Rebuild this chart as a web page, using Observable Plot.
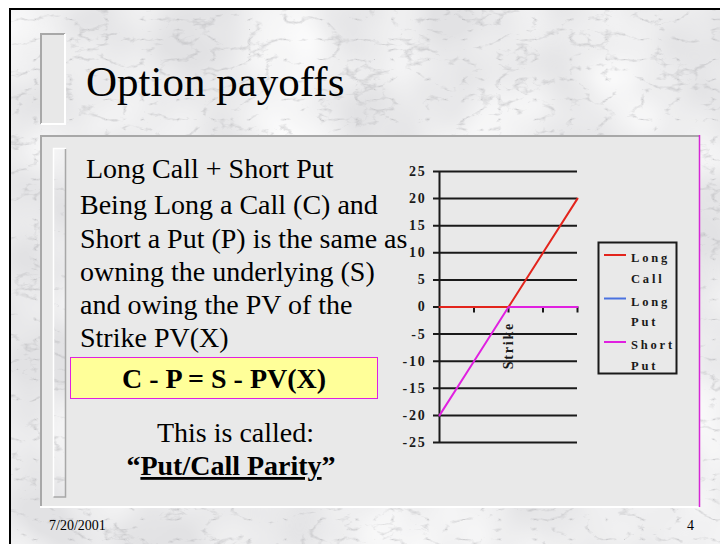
<!DOCTYPE html>
<html><head><meta charset="utf-8">
<script src="https://cdn.jsdelivr.net/npm/d3@7"></script>
<script src="https://cdn.jsdelivr.net/npm/@observablehq/plot@0.6"></script>
<style>
html,body{margin:0;padding:0;width:720px;height:544px;overflow:hidden;background:#fff;}
#deco{position:absolute;left:0;top:0;}
#chart{position:absolute;left:395px;top:155px;}
#chart svg{font-family:"Liberation Serif","Times New Roman",serif;font-size:14px;font-weight:bold;background:transparent;overflow:visible;}
#chart svg text{letter-spacing:1.8px;fill:#1a1a1a;}
.serif{font-family:"Liberation Serif","Times New Roman",serif;}
</style></head>
<body>
<svg id="deco" width="720" height="544" xmlns="http://www.w3.org/2000/svg">
  <defs>
    <filter id="marble" filterUnits="userSpaceOnUse" x="0" y="0" width="720" height="544">
      <feTurbulence type="turbulence" baseFrequency="0.028 0.05" numOctaves="4" seed="11" result="t"/>
      <feColorMatrix in="t" type="matrix" values="0 0 0 0 0.45  0 0 0 0 0.45  0 0 0 0 0.47  -3.2 0 0 0 0.6" result="veins"/>
      <feTurbulence type="fractalNoise" baseFrequency="0.012" numOctaves="2" seed="4" result="n"/>
      <feColorMatrix in="n" type="matrix" values="0 0 0 0 1  0 0 0 0 1  0 0 0 0 1  1.6 0 0 0 -0.45" result="light"/>
      <feFlood flood-color="#e2e2e4" result="base"/>
      <feComposite in="light" in2="base" operator="over" result="b2"/>
      <feComposite in="veins" in2="b2" operator="over" result="all"/>
      <feComposite in="all" in2="SourceGraphic" operator="in"/>
    </filter>
  </defs>
  <rect x="10" y="10" width="710" height="534" fill="#e2e2e2" filter="url(#marble)"/>
  <path d="M10,544 V9 H720" fill="none" stroke="#000" stroke-width="2"/>
  <!-- title box -->
  <rect x="40" y="33" width="25" height="91" fill="#e8e8e8"/>
  <path d="M41,124 V34 H65" fill="none" stroke="#a8a8a8" stroke-width="2"/>
  <path d="M41,124 H65 V34" fill="none" stroke="#fff" stroke-width="2"/>
  <text class="serif" x="86" y="96" font-size="43">Option payoffs</text>
  <!-- panel -->
  <rect x="40" y="135" width="659" height="372" fill="#e9e9e9"/>
  <path d="M41,507 V136 H699" fill="none" stroke="#a8a8a8" stroke-width="2"/>
  <path d="M40,507 H699" fill="none" stroke="#fff" stroke-width="2"/>
  <path d="M699.5,135 V507" fill="none" stroke="#d626d6" stroke-width="1.5"/>
  <!-- inner strip -->
  <rect x="53" y="148" width="13" height="349" fill="#e2e2e2" filter="url(#marble)"/>
  <path d="M53.5,497 V148.5 H66" fill="none" stroke="#fff" stroke-width="1.5"/>
  <path d="M53.5,497 H65.5 V149" fill="none" stroke="#a8a8a8" stroke-width="1.5"/>
  <!-- body text -->
  <g class="serif" font-size="28" fill="#000">
    <text x="86" y="178">Long Call + Short Put</text>
    <text x="80" y="214">Being Long a Call (C) and</text>
    <text x="80" y="248">Short a Put (P) is the same as</text>
    <text x="80" y="281">owning the underlying (S)</text>
    <text x="80" y="314">and owing the PV of the</text>
    <text x="80" y="347">Strike PV(X)</text>
  </g>
  <rect x="70.5" y="357.5" width="307" height="41" fill="#ffff99" stroke="#e020e0" stroke-width="1"/>
  <text class="serif" x="224" y="388" font-size="28" font-weight="bold" text-anchor="middle">C - P = S - PV(X)</text>
  <text class="serif" x="235.5" y="442" font-size="28" text-anchor="middle">This is called:</text>
  <text class="serif" x="231" y="475" font-size="28" font-weight="bold" text-anchor="middle">“<tspan text-decoration="underline">Put/Call Parity</tspan>”</text>
  <text class="serif" x="49" y="530" font-size="14">7/20/2001</text>
  <text class="serif" x="687" y="530" font-size="14">4</text>
  <g id="legend"></g>
</svg>
<div id="chart"></div>
<script>
// ---- data ----
const categories = ["", "", "Strike", "", ""];
const longCall = [0, 0, 0, 10, 20];
const longPut = [null, null, null, null, null];
const shortPut = [-20, -10, 0, 0, 0];
const seriesNames = ["Long Call", "Long Put", "Short Put"];
const seriesColors = ["#e3241c", "#4a72e0", "#e020e0"];
const yTicks = [25, 20, 15, 10, 5, 0, -5, -10, -15, -20, -25];

const seriesValues = [longCall, longPut, shortPut];
const rows = [];
seriesValues.forEach((vals, s) => vals.forEach((v, i) => {
  if (v !== null) rows.push({x: i, y: v, series: seriesNames[s]});
}));
const xIdx = categories.map((_, i) => i);
const labelRows = categories.map((c, i) => ({x: i, label: c})).filter(d => d.label);

const chart = Plot.plot({
  width: 290, height: 300,
  marginLeft: 44, marginRight: 108, marginTop: 16, marginBottom: 13,
  x: {domain: [0, categories.length - 1], axis: null},
  y: {domain: [-25, 25], axis: null},
  color: {domain: seriesNames, range: seriesColors},
  marks: [
    Plot.ruleY(yTicks, {stroke: "#1a1a1a", strokeWidth: 2, insetLeft: -6}),
    Plot.ruleX([0], {stroke: "#1a1a1a", strokeWidth: 2}),
    Plot.ruleX(xIdx.slice(1), {y1: 0, y2: 0, insetBottom: -6, stroke: "#1a1a1a", strokeWidth: 2}),
    Plot.axisY({ticks: yTicks, tickSize: 0, tickPadding: 13, label: null, tickFormat: d => String(d), fontWeight: "bold", fontSize: 14}),
    Plot.line(rows, {x: "x", y: "y", z: "series", stroke: "series", strokeWidth: 2}),
    Plot.text(labelRows, {x: "x", y: 0, text: "label", rotate: -90, textAnchor: "end", dy: 15, fontWeight: "bold", fontSize: 14})
  ]
});
document.getElementById("chart").appendChild(chart);

// ---- legend ----
const lg = d3.select("#legend");
lg.append("rect").attr("x", 598.5).attr("y", 242.5).attr("width", 78).attr("height", 131)
  .attr("fill", "none").attr("stroke", "#1a1a1a").attr("stroke-width", 2);
seriesNames.forEach((name, i) => {
  const cy = 255 + i * 43.5;
  lg.append("line").attr("x1", 604).attr("x2", 626).attr("y1", cy).attr("y2", cy)
    .attr("stroke", seriesColors[i]).attr("stroke-width", 2);
  const words = name.split(" ");
  words.forEach((w, j) => {
    lg.append("text").attr("class", "serif").attr("x", 631).attr("y", cy + 7 + j * 20.5)
      .attr("font-size", 12.5).attr("font-weight", "bold").attr("letter-spacing", 2.8)
      .attr("fill", "#1a1a1a").text(w);
  });
});
</script>
</body></html>
